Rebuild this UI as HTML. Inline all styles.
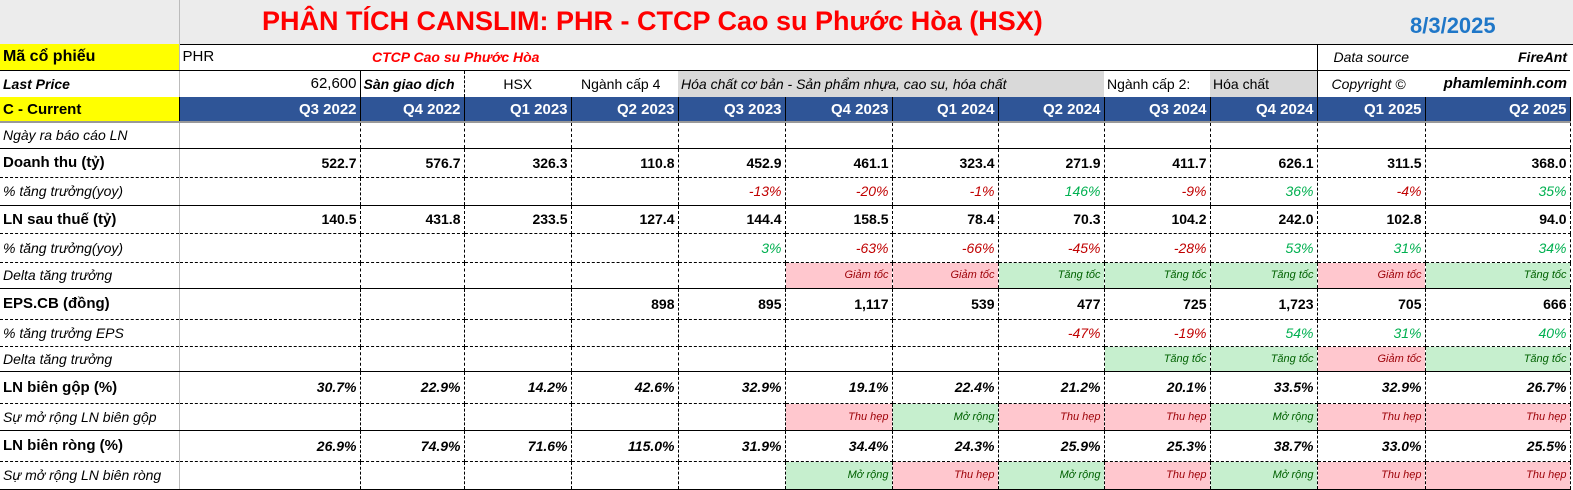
<!DOCTYPE html>
<html><head><meta charset="utf-8"><style>
body{margin:0;width:1573px;height:490px;overflow:hidden;background:#fff;font-family:"Liberation Sans",sans-serif;}
table{border-collapse:collapse;table-layout:fixed;position:absolute;left:0;top:0;}
td{padding:0 3px;font-size:14px;white-space:nowrap;overflow:hidden;text-align:right;border-right:1px dashed #000;border-bottom:1px dashed #000;}
td.l{text-align:left;border-right:1px solid #bbb;}
tr.s td{border-bottom:1px solid #000;}
.b{font-weight:bold;font-size:15px}
.i{font-style:italic}
.bi{font-weight:bold;font-style:italic;font-size:15px}
td.lb{font-weight:bold;font-style:normal;font-size:15px}
.r{color:#c00000;font-style:italic}
.g{color:#00b050;font-style:italic}
.pk{background:#ffc7ce;color:#9c0006;font-style:italic;font-size:11px}
.gn{background:#c6efce;color:#006100;font-style:italic;font-size:11px}
.hd td{background:#2f5597;color:#fff;font-weight:bold;font-size:15px;border-right:1px solid #000;border-bottom:2px solid #999}
.y{background:#ffff00 !important;color:#000 !important;text-align:left;font-weight:bold;font-size:16px}
.top td{border:none}
</style></head><body>
<div style="position:absolute;left:0;top:0;width:1573px;height:44px;background:#ececec;border-bottom:1px solid #000"></div>
<div style="position:absolute;left:179px;top:0;width:1px;height:44px;background:#bbb"></div>
<div style="position:absolute;left:262px;top:6px;color:#f00;font-weight:bold;font-size:27px">PHÂN TÍCH CANSLIM: PHR - CTCP Cao su Phước Hòa (HSX)</div>
<div style="position:absolute;left:1410px;top:13px;color:#1f77c8;font-weight:bold;font-size:22px">8/3/2025</div>
<table style="top:44px">
<colgroup><col style="width:179px"><col style="width:181px"><col style="width:104px"><col style="width:107px"><col style="width:107px"><col style="width:107px"><col style="width:107px"><col style="width:106px"><col style="width:106px"><col style="width:106px"><col style="width:107px"><col style="width:108px"><col style="width:145px"></colgroup>
<tr class="top" style="height:26px"><td class="y" style="border-bottom:1px solid #000;border-right:1px solid #bbb">Mã cổ phiếu</td><td style="text-align:left;font-size:15px;border-bottom:1px solid #000">PHR</td><td colspan="3" style="text-align:left;color:#f00;font-weight:bold;font-style:italic;font-size:14px;padding-left:12px;border-bottom:1px solid #000">CTCP Cao su Phước Hòa</td><td colspan="6" style="border-bottom:1px solid #000"></td><td class="i" style="text-align:left;padding-left:16px;border-left:1px solid #000;border-bottom:1px solid #000">Data source</td><td class="bi" style="font-size:14px;border-bottom:1px solid #000">FireAnt</td></tr>
<tr class="top" style="height:27px"><td class="bi" style="text-align:left;font-size:14px;border-right:1px solid #bbb">Last Price</td><td style="font-size:15px;border-right:1px solid #000">62,600</td><td class="bi" style="text-align:left;font-size:14px;border-right:1px dashed #000">Sàn giao dịch</td><td style="text-align:center;font-size:14px">HSX</td><td style="text-align:left;font-size:14px;padding-left:10px">Ngành cấp 4</td><td colspan="4" class="i" style="text-align:left;background:#d9d9d9;font-size:14px;padding-left:3px">Hóa chất cơ bản - Sản phẩm nhựa, cao su, hóa chất</td><td style="text-align:left;font-size:14px">Ngành cấp 2:</td><td style="text-align:left;background:#d9d9d9;font-size:14px">Hóa chất</td><td class="i" style="text-align:left;padding-left:14px;border-left:1px solid #000">Copyright ©</td><td class="bi" style="font-size:15px">phamleminh.com</td></tr>
<tr class="hd" style="height:25px"><td class="y">C - Current</td><td>Q3 2022</td><td>Q4 2022</td><td>Q1 2023</td><td>Q2 2023</td><td>Q3 2023</td><td>Q4 2023</td><td>Q1 2024</td><td>Q2 2024</td><td>Q3 2024</td><td>Q4 2024</td><td>Q1 2025</td><td>Q2 2025</td></tr>
<tr class="s" style="height:26px"><td class="l i">Ngày ra báo cáo LN</td><td></td><td></td><td></td><td></td><td></td><td></td><td></td><td></td><td></td><td></td><td></td><td></td></tr>
<tr style="height:29px" class="b"><td class="l lb">Doanh thu (tỷ)</td><td>522.7</td><td>576.7</td><td>326.3</td><td>110.8</td><td>452.9</td><td>461.1</td><td>323.4</td><td>271.9</td><td>411.7</td><td>626.1</td><td>311.5</td><td>368.0</td></tr>
<tr class="s" style="height:28px"><td class="l i">% tăng trưởng(yoy)</td><td></td><td></td><td></td><td></td><td class="r">-13%</td><td class="r">-20%</td><td class="r">-1%</td><td class="g">146%</td><td class="r">-9%</td><td class="g">36%</td><td class="r">-4%</td><td class="g">35%</td></tr>
<tr style="height:28px" class="b"><td class="l lb">LN sau thuế (tỷ)</td><td>140.5</td><td>431.8</td><td>233.5</td><td>127.4</td><td>144.4</td><td>158.5</td><td>78.4</td><td>70.3</td><td>104.2</td><td>242.0</td><td>102.8</td><td>94.0</td></tr>
<tr style="height:29px"><td class="l i">% tăng trưởng(yoy)</td><td></td><td></td><td></td><td></td><td class="g">3%</td><td class="r">-63%</td><td class="r">-66%</td><td class="r">-45%</td><td class="r">-28%</td><td class="g">53%</td><td class="g">31%</td><td class="g">34%</td></tr>
<tr class="s" style="height:26px"><td class="l i">Delta tăng trưởng</td><td></td><td></td><td></td><td></td><td></td><td class="pk">Giảm tốc</td><td class="pk">Giảm tốc</td><td class="gn">Tăng tốc</td><td class="gn">Tăng tốc</td><td class="gn">Tăng tốc</td><td class="pk">Giảm tốc</td><td class="gn">Tăng tốc</td></tr>
<tr style="height:31px" class="b"><td class="l lb">EPS.CB (đồng)</td><td></td><td></td><td></td><td>898</td><td>895</td><td>1,117</td><td>539</td><td>477</td><td>725</td><td>1,723</td><td>705</td><td>666</td></tr>
<tr style="height:27px"><td class="l i">% tăng trưởng EPS</td><td></td><td></td><td></td><td></td><td></td><td></td><td></td><td class="r">-47%</td><td class="r">-19%</td><td class="g">54%</td><td class="g">31%</td><td class="g">40%</td></tr>
<tr class="s" style="height:25px"><td class="l i">Delta tăng trưởng</td><td></td><td></td><td></td><td></td><td></td><td></td><td></td><td></td><td class="gn">Tăng tốc</td><td class="gn">Tăng tốc</td><td class="pk">Giảm tốc</td><td class="gn">Tăng tốc</td></tr>
<tr style="height:32px" class="bi"><td class="l lb">LN biên gộp (%)</td><td>30.7%</td><td>22.9%</td><td>14.2%</td><td>42.6%</td><td>32.9%</td><td>19.1%</td><td>22.4%</td><td>21.2%</td><td>20.1%</td><td>33.5%</td><td>32.9%</td><td>26.7%</td></tr>
<tr class="s" style="height:27px"><td class="l i">Sự mở rộng LN biên gộp</td><td></td><td></td><td></td><td></td><td></td><td class="pk">Thu hẹp</td><td class="gn">Mở rộng</td><td class="pk">Thu hẹp</td><td class="pk">Thu hẹp</td><td class="gn">Mở rộng</td><td class="pk">Thu hẹp</td><td class="pk">Thu hẹp</td></tr>
<tr style="height:31px" class="bi"><td class="l lb">LN biên ròng (%)</td><td>26.9%</td><td>74.9%</td><td>71.6%</td><td>115.0%</td><td>31.9%</td><td>34.4%</td><td>24.3%</td><td>25.9%</td><td>25.3%</td><td>38.7%</td><td>33.0%</td><td>25.5%</td></tr>
<tr class="s" style="height:28px"><td class="l i">Sự mở rộng LN biên ròng</td><td></td><td></td><td></td><td></td><td></td><td class="gn">Mở rộng</td><td class="pk">Thu hẹp</td><td class="gn">Mở rộng</td><td class="pk">Thu hẹp</td><td class="gn">Mở rộng</td><td class="pk">Thu hẹp</td><td class="pk">Thu hẹp</td></tr>
</table>
</body></html>
